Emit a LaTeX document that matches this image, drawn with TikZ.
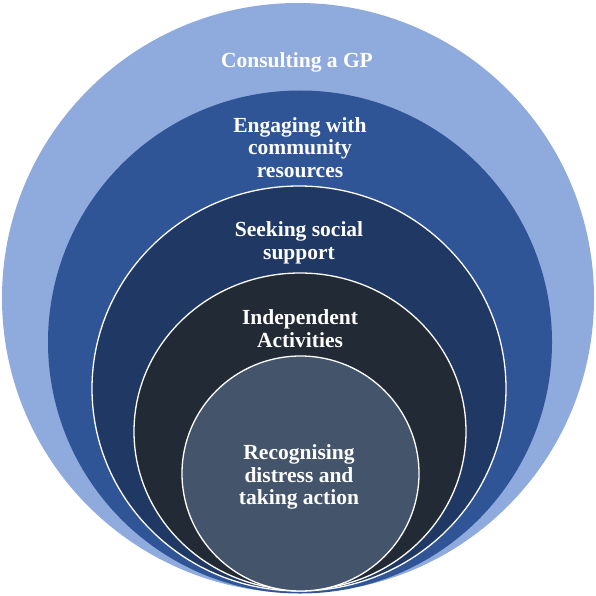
\documentclass[tikz,border=0pt]{standalone}
\usepackage{fontspec}
\setmainfont{Liberation Serif}
\usetikzlibrary{shapes.geometric}
\definecolor{gpblue}{HTML}{8FAADC}
\definecolor{commblue}{HTML}{2F5597}
\definecolor{socialblue}{HTML}{203864}
\definecolor{indepdark}{HTML}{222A35}
\definecolor{distressgrey}{HTML}{44546A}

\begin{document}
\begin{tikzpicture}[x=1pt, y=-1pt, ring/.style = {ellipse, inner sep=0pt}, inring/.style = {ring, draw=white, line width=1.3pt}, txt/.style = {text=white, font=\bfseries\fontsize{21.5}{22.8}\selectfont, align=center, inner sep=0pt}]
        \useasboundingbox (0,0) rectangle (596,596);
        \node[ring, fill=gpblue, minimum width=592pt, minimum height=590pt] (gp) at (298,298) {};
        \node[ring, fill=commblue, minimum width=504pt, minimum height=503pt] (comm) at (300,342) {};
        \node[inring, fill=socialblue, minimum width=414pt, minimum height=405pt] (social) at (299,388.5) {};
        \node[inring, fill=indepdark, minimum width=332pt, minimum height=317pt] (indep) at (300,431.5) {};
        \node[inring, fill=distressgrey, minimum width=237pt, minimum height=235pt] (distress) at (300.5,473.5) {};

        \node[txt] (gptext) at (297,62) {Consulting a GP};
        \node[txt] (commtext) at (300,147.5) {Engaging with\\community\\resources};
        \node[txt] (socialtext) at (299,242.5) {Seeking social\\support};
        \node[txt] (indeptext) at (300,329) {Independent\\Activities};
        \node[txt] (distresstext) at (299,477) {Recognising\\distress and\\taking action};
    \end{tikzpicture}
\end{document}
